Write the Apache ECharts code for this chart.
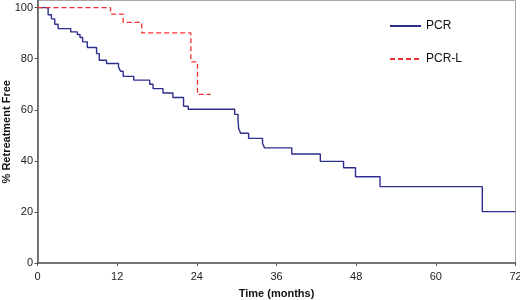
<!DOCTYPE html>
<html>
<head>
<meta charset="utf-8">
<script src="https://cdn.jsdelivr.net/npm/echarts@6/dist/echarts.min.js"></script>
<style>
  html, body { margin: 0; padding: 0; background: #fff; }
  #chart { width: 520px; height: 300px; }
</style>
</head>
<body>
<div id="chart"></div>
<script>
// Kaplan-Meier steps: [month, % retreatment free]
var pcrSteps = [
    [0, 100], [1.6, 97.2], [2.1, 95.6], [2.6, 93.5], [3.1, 91.8], [5.0, 90.5],
    [6.0, 89.5], [6.4, 88.3], [6.8, 86.6], [7.5, 84.4], [8.9, 82.0], [9.3, 79.4],
    [10.4, 78.1], [12.2, 76.8], [12.5, 75.1], [12.9, 73.1], [14.5, 71.6], [16.9, 70.0],
    [17.4, 68.3], [18.9, 66.6], [20.4, 64.8], [22.0, 61.4], [22.7, 60.2], [29.7, 58.2],
    [30.2, 56.0], [30.3, 52.7], [30.6, 50.8], [31.8, 48.8], [33.9, 46.8], [34.2, 45.1],
    [38.3, 42.7], [42.6, 39.8], [46.1, 37.3], [47.9, 33.8], [51.6, 29.9], [67.0, 20.1],
    [72, 20.1]
];
var pcrLSteps = [
    [0, 100], [11.0, 97.5], [12.9, 94.2], [15.7, 90.1], [23.1, 78.8], [24.1, 66.0],
    [26.1, 66.0]
];
var seriesNames = ['PCR', 'PCR-L'];
var yTicks = [0, 20, 40, 60, 80, 100];

var chart = echarts.init(document.getElementById('chart'));
var font = 'Liberation Sans, Arial, sans-serif';

var options = {
    animation: false,
    grid: {
        left: 37.5,
        right: 4.5,
        top: 0.5,
        bottom: 37,
        containLabel: false,
        outerBoundsMode: 'none',
        show: true,
        borderColor: '#a8a8a8',
        borderWidth: 1
    },
    legend: {
        orient: 'vertical',
        left: 389,
        top: 20,
        padding: 0,
        itemWidth: 31,
        itemHeight: 14,
        itemGap: 21,
        itemStyle: { opacity: 0 },
        textStyle: { fontFamily: font, fontSize: 12, color: '#111' },
        data: seriesNames
    },
    xAxis: {
        type: 'value',
        min: 0,
        max: 72,
        interval: 12,
        name: 'Time (months)',
        nameLocation: 'middle',
        nameGap: 25,
        nameMoveOverlap: false,
        nameTextStyle: { fontFamily: font, fontSize: 11, fontWeight: 'bold', color: '#111' },
        axisLine: { show: true, lineStyle: { color: '#555', width: 1.5 } },
        axisTick: { show: true, length: 3, lineStyle: { color: '#555' } },
        axisLabel: { fontFamily: font, fontSize: 11, color: '#222', margin: 8 },
        splitLine: { show: false }
    },
    yAxis: {
        type: 'value',
        min: 0,
        max: 102.8,
        name: '% Retreatment Free',
        nameLocation: 'middle',
        nameGap: 25,
        nameMoveOverlap: false,
        nameTextStyle: { fontFamily: font, fontSize: 11, fontWeight: 'bold', color: '#111' },
        axisLine: { show: true, lineStyle: { color: '#555', width: 1.5 } },
        axisTick: { show: true, length: 3, customValues: yTicks, lineStyle: { color: '#555' } },
        axisLabel: { fontFamily: font, fontSize: 11, color: '#222', margin: 4.5, customValues: yTicks },
        splitLine: { show: false }
    },
    series: [
        {
            name: seriesNames[0],
            type: 'line',
            step: 'end',
            symbol: 'none',
            lineStyle: { color: '#2e2e8f', width: 1.4 },
            itemStyle: { color: '#2e2e8f' },
            data: pcrSteps
        },
        {
            name: seriesNames[1],
            type: 'line',
            step: 'end',
            symbol: 'none',
            lineStyle: { color: '#f03232', width: 1.3, type: [5, 3] },
            itemStyle: { color: '#f03232' },
            data: pcrLSteps
        }
    ]
};
chart.setOption(options);
</script>
</body>
</html>
